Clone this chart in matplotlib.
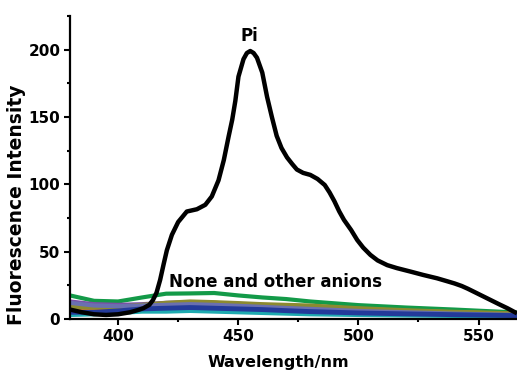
import matplotlib
matplotlib.use("Agg")
import matplotlib.pyplot as plt
from matplotlib.ticker import MultipleLocator

plt.rcParams['font.family'] = ['DejaVu Sans']
plt.rcParams['font.weight'] = 'bold'

# Emission spectrum with phosphate (Pi)
pi_wl = [380, 385, 390, 395, 400, 405, 408, 410.5, 413, 414.5, 416, 417.5, 419,
         420.3, 422.4, 425, 428.6, 432.8, 436.3, 439, 441.8, 444, 446, 447.5,
         448.8, 450.1, 452.2, 453.6, 455, 456.4, 457.8, 460, 462, 464, 466, 468,
         470.3, 472.5, 474.4, 477, 480, 483, 486, 488, 490, 492, 494, 497,
         499.5, 502, 505, 508, 512, 516, 521.7, 527, 532.8, 537, 540, 543,
         545.5, 548, 551.5, 555, 558.5, 562, 566]
pi_int = [7, 5, 3.5, 3, 3.5, 5, 6.5, 8, 10.5, 14, 19.5, 29, 41,
          51, 62.5, 72, 79.8, 81.5, 84.8, 91, 103, 118, 135.5, 148,
          162, 180, 193, 197.5, 199, 197.5, 194, 183, 165, 150, 136, 127,
          120, 115, 111, 108.5, 107, 104, 99.5, 94, 87.5, 80, 73.6, 66,
          58.7, 53, 47.6, 43.5, 40, 37.8, 35.2, 32.7, 30.2, 28, 26.4, 24.5,
          22.5, 20.3, 17.2, 14.1, 11, 8, 4.2]

# Free probe and other anions
other_wl = [380, 390, 400, 410, 420, 430, 440, 450, 460, 470, 480, 500, 520, 540, 566]
green = [17.5, 13.5, 13, 16, 18.8, 19, 19.3, 17.5, 16, 14.8, 13, 10.3, 8.5, 7, 4.8]
purple = [13, 11, 10.5, 11, 12, 12.5, 12, 11, 10, 9, 8, 6.5, 5.5, 4.5, 3.5]
magenta = [11, 9, 9, 10, 11, 11.5, 11, 10, 9, 8.2, 7.5, 6, 5, 4, 3.2]
orange = [6, 6.5, 8, 9.5, 11.5, 12.5, 12, 11.2, 10.5, 9.8, 9, 7.5, 6, 5, 3.8]
olive = [9, 8.5, 9, 10.5, 12, 13, 12.5, 11.8, 11, 10.5, 10, 8, 6.5, 5.3, 4.2]
slate = [12, 10, 9.5, 10, 10.5, 11, 10.5, 9.8, 9, 8.2, 7.5, 6, 5, 4, 3]
cyan = [3, 3.5, 4.5, 5.5, 5.5, 6, 5.5, 5, 4.5, 4, 3.5, 3, 2.6, 2.3, 2]
blue = [5, 5, 6, 7.5, 8, 8.5, 8, 7.5, 7, 6.2, 5.5, 4.5, 3.8, 3.2, 2.5]

anion_series = [
    (green, '#139a48', 3.0),
    (purple, '#7b4fa6', 3.0),
    (magenta, '#b03c9c', 3.0),
    (orange, '#f07f1e', 3.0),
    (olive, '#8c8a30', 3.0),
    (slate, '#6a70b0', 3.0),
    (cyan, '#1eaab0', 3.0),
    (blue, '#233a9a', 3.5),
]

fig = plt.figure(figsize=(5.17, 3.77), dpi=100)
ax = fig.add_axes([70 / 517, 1 - 319 / 377, 447 / 517, 303 / 377])

for vals, col, lw in anion_series:
    ax.plot(other_wl, vals, color=col, lw=lw, solid_capstyle='butt',
            solid_joinstyle='round')
ax.plot(pi_wl, pi_int, color='black', lw=3.2, zorder=5,
        solid_joinstyle='round', solid_capstyle='butt')

ax.set_xlim(380, 566)
ax.set_ylim(0, 225)
ax.xaxis.set_major_locator(MultipleLocator(50))
ax.xaxis.set_minor_locator(MultipleLocator(25))
ax.yaxis.set_major_locator(MultipleLocator(50))
ax.yaxis.set_minor_locator(MultipleLocator(25))

for s in ('top', 'right'):
    ax.spines[s].set_visible(False)
for s in ('left', 'bottom'):
    ax.spines[s].set_linewidth(1.6)

ax.tick_params(which='major', direction='out', length=4.5, width=1.5,
               labelsize=11, pad=2.5)
ax.tick_params(which='minor', direction='out', length=2.5, width=1.5)
for lab in ax.get_xticklabels() + ax.get_yticklabels():
    lab.set_fontweight('bold')

ax.set_xlabel('Wavelength/nm', fontsize=11.5, fontweight='bold')
ax.set_ylabel('Fluorescence Intensity', fontsize=13.5, fontweight='bold')
ax.xaxis.set_label_coords(0.465, -0.142)
ax.yaxis.set_label_coords(-0.12, 0.376)
ax.xaxis.label.set_va('center')
ax.yaxis.label.set_va('center')

ax.text(454.6, 203.7, 'Pi', fontsize=12, fontweight='bold', ha='center', va='bottom')
ax.text(421, 23.8, 'None and other anions', fontsize=12, fontweight='bold',
        ha='left', va='baseline')

fig.savefig('out.png', dpi=100)
